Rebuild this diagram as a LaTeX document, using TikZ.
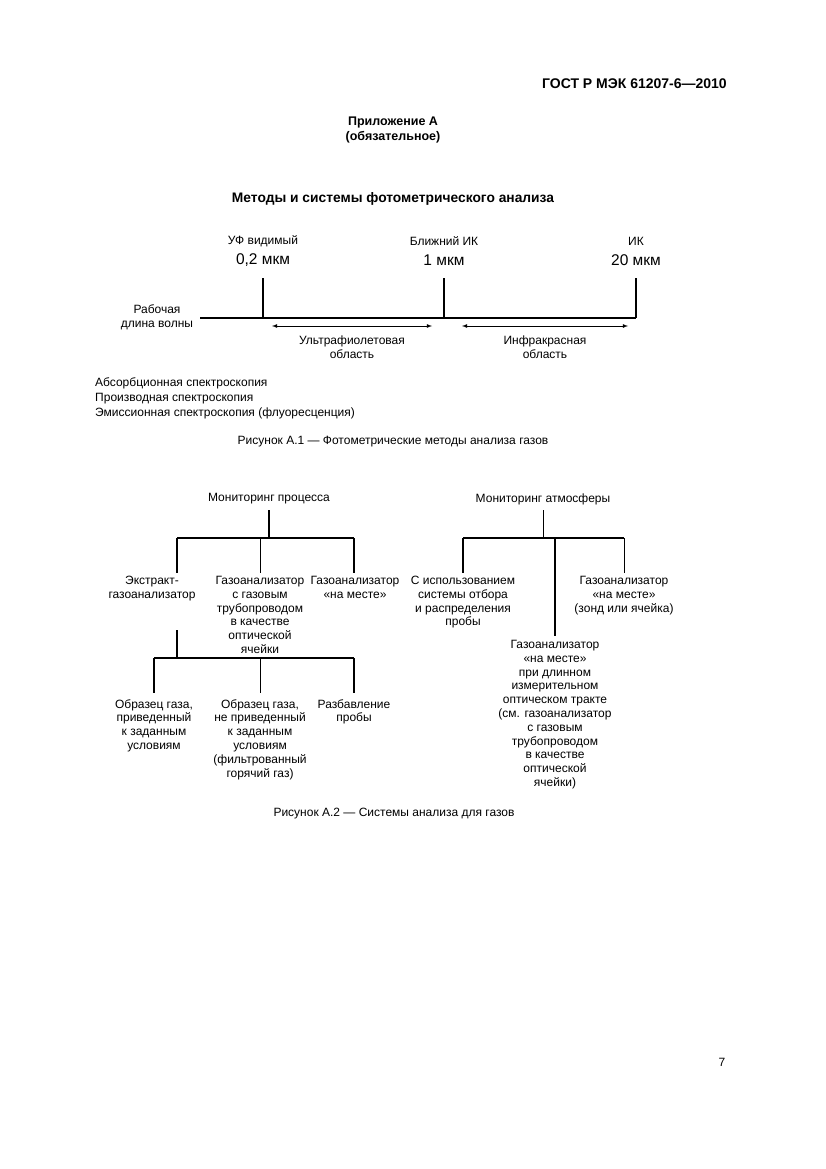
\documentclass[tikz,border=0pt]{standalone}
\usepackage{fontspec}
\setmainfont{Liberation Sans}
\begin{document}
\begin{tikzpicture}[x=1pt,y=-1pt,
  t/.style={font=\fontsize{12}{13.8}\selectfont,align=center,inner sep=0pt,anchor=north},
  big/.style={font=\fontsize{15.5}{18}\selectfont,inner sep=0pt},
  ln/.style={line width=1.1pt},
  thin/.style={line width=0.8pt},
  dar/.style={line width=0.8pt,<->,>=latex}]
\useasboundingbox (0,0) rectangle (826,1169);
\node[anchor=east,font=\bfseries\fontsize{14}{16}\selectfont,inner sep=0pt] (hdr) at (727,84) {ГОСТ Р МЭК 61207-6—2010};
\node[font=\bfseries\fontsize{12.5}{15}\selectfont,align=center,inner sep=0pt] (app) at (393,130) {Приложение А\\(обязательное)};
\node[font=\bfseries\fontsize{13.8}{16}\selectfont,inner sep=0pt] (ttl) at (393,199) {Методы и системы фотометрического анализа};
% figure A.1
\node[t,anchor=center] (l1) at (263,241) {УФ видимый};
\node[big] (v1) at (263,260) {0,2 мкм};
\node[t,anchor=center] (l2) at (444,241) {Ближний ИК};
\node[big] (v2) at (444,260) {1 мкм};
\node[t,anchor=center] (l3) at (636,241) {ИК};
\node[big] (v3) at (636,260) {20 мкм};
\coordinate (b0) at (200,318);
\coordinate (t1) at (263,278); \coordinate (b1) at (263,318);
\coordinate (t2) at (444,278); \coordinate (b2) at (444,318);
\coordinate (t3) at (636,278); \coordinate (b3) at (636,318);
\draw[ln] (b0) -- (b3);
\draw[ln] (t1) -- (b1); \draw[ln] (t2) -- (b2); \draw[ln] (t3) -- (b3);
\node[t,anchor=center] (rab) at (157,317) {Рабочая\\длина волны};
\coordinate (ua) at (272,326); \coordinate (ub) at (432,326);
\coordinate (ia) at (462,326); \coordinate (ib) at (628,326);
\draw[dar] (ua) -- (ub);
\draw[dar] (ia) -- (ib);
\node[t,anchor=center] (uv) at (352,347) {Ультрафиолетовая\\область};
\node[t,anchor=center] (ir) at (545,347) {Инфракрасная\\область};
\node[t,anchor=north west,align=left,font=\fontsize{12}{15}\selectfont] (lst) at (95,377) {Абсорбционная спектроскопия\\Производная спектроскопия\\Эмиссионная спектроскопия (флуоресценция)};
\node[t,anchor=center] (cap1) at (393,442) {Рисунок А.1 — Фотометрические методы анализа газов};
% figure A.2
\node[t,anchor=center] (mp) at (269,499) {Мониторинг процесса};
\coordinate (mp0) at (269,510); \coordinate (mp1) at (269,538);
\coordinate (h1) at (177,538); \coordinate (h2) at (260,538); \coordinate (h3) at (354,538);
\draw[ln] (mp0) -- (mp1);
\draw[ln] (h1) -- (h3);
\draw[ln] (h1) -- ++(0,35);
\draw[thin] (h2) -- ++(0,35);
\draw[ln] (h3) -- ++(0,35);
\node[t] (e1) at (152,576) {Экстракт-\\газоанализатор};
\node[t] (e2) at (260,576) {Газоанализатор\\с газовым\\трубопроводом\\в качестве\\оптической\\ячейки};
\node[t] (e3) at (355,576) {Газоанализатор\\«на месте»};
\coordinate (s0) at (177,630); \coordinate (s1) at (177,658);
\coordinate (g1) at (154,658); \coordinate (g2) at (260,658); \coordinate (g3) at (354,658);
\draw[ln] (s0) -- (s1);
\draw[ln] (g1) -- (g3);
\draw[ln] (g1) -- ++(0,35);
\draw[thin] (g2) -- ++(0,35);
\draw[ln] (g3) -- ++(0,35);
\node[t] (f1) at (154,699) {Образец газа,\\приведенный\\к заданным\\условиям};
\node[t] (f2) at (260,699) {Образец газа,\\не приведенный\\к заданным\\условиям\\(фильтрованный\\горячий газ)};
\node[t] (f3) at (354,699) {Разбавление\\пробы};
\node[t,anchor=center] (ma) at (543,499) {Мониторинг атмосферы};
\coordinate (ma0) at (543,510); \coordinate (ma1) at (543,538);
\coordinate (k1) at (463,538); \coordinate (k2) at (555,538); \coordinate (k3) at (624,538);
\draw[thin] (ma0) -- (ma1);
\draw[ln] (k1) -- (k3);
\draw[ln] (k1) -- ++(0,35);
\draw[ln] (k2) -- ++(0,98);
\draw[thin] (k3) -- ++(0,35);
\node[t] (a1) at (463,576) {С использованием\\системы отбора\\и распределения\\пробы};
\node[t] (a3) at (624,576) {Газоанализатор\\«на месте»\\(зонд или ячейка)};
\node[t] (a2) at (555,640) {Газоанализатор\\«на месте»\\при длинном\\измерительном\\оптическом тракте\\(см. газоанализатор\\с газовым\\трубопроводом\\в качестве\\оптической\\ячейки)};
\node[t,anchor=center] (cap2) at (394,814) {Рисунок А.2 — Системы анализа для газов};
\node[font=\fontsize{12}{13}\selectfont,inner sep=0pt] (pg) at (722,1062) {7};
\end{tikzpicture}
\end{document}
